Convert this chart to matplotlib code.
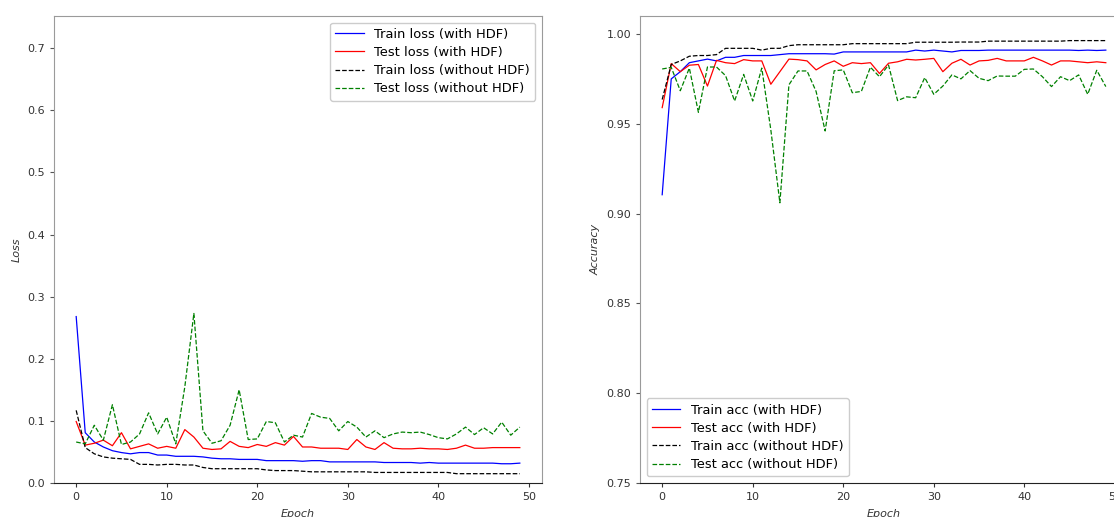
import matplotlib
matplotlib.use("Agg")
import matplotlib.pyplot as plt

epochs = list(range(50))

train_loss_hdf = [0.268, 0.081, 0.066, 0.058, 0.052, 0.049, 0.047, 0.049, 0.049, 0.045,
                  0.045, 0.043, 0.043, 0.043, 0.042, 0.040, 0.039, 0.039, 0.038, 0.038,
                  0.038, 0.036, 0.036, 0.036, 0.036, 0.035, 0.036, 0.036, 0.034, 0.034,
                  0.034, 0.034, 0.034, 0.034, 0.033, 0.033, 0.033, 0.033, 0.032, 0.033,
                  0.032, 0.032, 0.032, 0.032, 0.032, 0.032, 0.032, 0.031, 0.031, 0.032]
test_loss_hdf = [0.099, 0.061, 0.064, 0.069, 0.060, 0.081, 0.055, 0.059, 0.063, 0.056,
                 0.059, 0.056, 0.086, 0.074, 0.056, 0.054, 0.055, 0.067, 0.059, 0.057,
                 0.062, 0.059, 0.065, 0.061, 0.075, 0.058, 0.058, 0.056, 0.056, 0.056,
                 0.054, 0.070, 0.058, 0.054, 0.065, 0.056, 0.055, 0.055, 0.056, 0.055,
                 0.055, 0.054, 0.056, 0.061, 0.056, 0.056, 0.057, 0.057, 0.057, 0.057]
train_loss_nohdf = [0.117, 0.057, 0.047, 0.042, 0.040, 0.039, 0.038, 0.030, 0.030, 0.029,
                    0.030, 0.030, 0.029, 0.029, 0.025, 0.023, 0.023, 0.023, 0.023, 0.023,
                    0.023, 0.021, 0.020, 0.020, 0.020, 0.019, 0.018, 0.018, 0.018, 0.018,
                    0.018, 0.018, 0.018, 0.017, 0.017, 0.017, 0.017, 0.017, 0.017, 0.017,
                    0.017, 0.017, 0.015, 0.015, 0.015, 0.015, 0.015, 0.015, 0.015, 0.015]
test_loss_nohdf = [0.066, 0.063, 0.093, 0.069, 0.126, 0.062, 0.066, 0.079, 0.113, 0.079,
                   0.106, 0.063, 0.155, 0.273, 0.084, 0.064, 0.068, 0.093, 0.150, 0.070,
                   0.071, 0.099, 0.097, 0.066, 0.077, 0.074, 0.112, 0.106, 0.104, 0.084,
                   0.099, 0.090, 0.074, 0.084, 0.073, 0.079, 0.082, 0.081, 0.082, 0.078,
                   0.073, 0.071, 0.079, 0.090, 0.078, 0.089, 0.079, 0.098, 0.077, 0.090]

train_acc_hdf = [0.9105, 0.975, 0.979, 0.984, 0.985, 0.986, 0.985, 0.987, 0.987, 0.988,
                 0.988, 0.988, 0.988, 0.9885, 0.989, 0.989, 0.989, 0.989, 0.989, 0.9888,
                 0.990, 0.990, 0.990, 0.990, 0.990, 0.990, 0.990, 0.990, 0.991, 0.9905,
                 0.991, 0.9905, 0.990, 0.9908, 0.9908, 0.9908, 0.991, 0.991, 0.991, 0.991,
                 0.991, 0.991, 0.991, 0.991, 0.991, 0.991, 0.9908, 0.991, 0.9908, 0.991]
test_acc_hdf = [0.959, 0.9835, 0.979, 0.9826, 0.983, 0.971, 0.9853, 0.984, 0.9835, 0.9857,
                0.985, 0.985, 0.972, 0.979, 0.986, 0.9857, 0.985, 0.980, 0.983, 0.985,
                0.982, 0.984, 0.9835, 0.984, 0.978, 0.9837, 0.9845, 0.9859, 0.9855, 0.9859,
                0.9864, 0.979, 0.9837, 0.9859, 0.9827, 0.985, 0.9853, 0.9864, 0.985, 0.985,
                0.985, 0.987, 0.985, 0.9827, 0.985, 0.985, 0.9845, 0.984, 0.9845, 0.984]
train_acc_nohdf = [0.9635, 0.983, 0.985, 0.9876, 0.988, 0.988, 0.9885, 0.992, 0.992, 0.992,
                   0.992, 0.991, 0.992, 0.992, 0.9935, 0.994, 0.994, 0.994, 0.994, 0.994,
                   0.994, 0.9946, 0.9946, 0.9946, 0.9946, 0.9946, 0.9946, 0.9946, 0.9954, 0.9954,
                   0.9954, 0.9954, 0.9954, 0.9955, 0.9955, 0.9955, 0.996, 0.996, 0.996, 0.996,
                   0.996, 0.996, 0.996, 0.996, 0.996, 0.9963, 0.9963, 0.9963, 0.9963, 0.9963]
test_acc_nohdf = [0.9805, 0.9814, 0.9684, 0.981, 0.9564, 0.9816, 0.9816, 0.9768, 0.9627, 0.9775,
                  0.9627, 0.981, 0.9466, 0.906, 0.9717, 0.9794, 0.9794, 0.968, 0.946, 0.9795,
                  0.980, 0.9673, 0.968, 0.9815, 0.9762, 0.9827, 0.9629, 0.965, 0.9645, 0.9757,
                  0.9664, 0.9710, 0.9772, 0.975, 0.9796, 0.9753, 0.974, 0.9766, 0.9765, 0.9765,
                  0.9803, 0.9805, 0.9762, 0.9707, 0.9762, 0.974, 0.9772, 0.9664, 0.9798, 0.9707]

loss_labels = ["Train loss (with HDF)", "Test loss (with HDF)",
               "Train loss (without HDF)", "Test loss (without HDF)"]
acc_labels = ["Train acc (with HDF)", "Test acc (with HDF)",
              "Train acc (without HDF)", "Test acc (without HDF)"]

plt.rcParams['font.family'] = ['DejaVu Sans']
W, H = 1114, 517
fig = plt.figure(figsize=(W / 100, H / 100), dpi=100)

ax1 = fig.add_axes([54 / W, 34 / H, 488 / W, 467 / H])
ax2 = fig.add_axes([640 / W, 34 / H, 488 / W, 467 / H])

lw = 0.9
def style(ax):
    for s in ['left', 'top', 'right']:
        ax.spines[s].set_color('#9a9a9a')
    ax.spines['bottom'].set_color('#222222')
    ax.tick_params(labelsize=8, colors='#333333', length=3, width=0.8)
    ax.tick_params(axis='y', color='#555555')

ax1.plot(epochs, train_loss_hdf, color='blue', lw=lw, label=loss_labels[0])
ax1.plot(epochs, test_loss_hdf, color='red', lw=lw, label=loss_labels[1])
ax1.plot(epochs, train_loss_nohdf, color='black', lw=lw, ls='--', label=loss_labels[2])
ax1.plot(epochs, test_loss_nohdf, color='green', lw=lw, ls='--', label=loss_labels[3])
ax1.set_ylim(0, 0.752)
ax1.set_yticks([0.0, 0.1, 0.2, 0.3, 0.4, 0.5, 0.6, 0.7])
ax1.set_xticks([0, 10, 20, 30, 40, 50])
ax1.set_ylabel("Loss", fontsize=8, style='italic', color='#333333')
ax1.set_xlabel("Epoch", fontsize=8, style='italic', color='#333333', labelpad=5)
style(ax1)
ax1.legend(loc='upper right', fontsize=9.4, handlelength=2.2, labelspacing=0.4,
           framealpha=1, edgecolor='#cccccc')

ax2.plot(epochs, train_acc_hdf, color='blue', lw=lw, label=acc_labels[0])
ax2.plot(epochs, test_acc_hdf, color='red', lw=lw, label=acc_labels[1])
ax2.plot(epochs, train_acc_nohdf, color='black', lw=lw, ls='--', label=acc_labels[2])
ax2.plot(epochs, test_acc_nohdf, color='green', lw=lw, ls='--', label=acc_labels[3])
ax2.set_ylim(0.75, 1.01)
ax2.set_yticks([0.75, 0.80, 0.85, 0.90, 0.95, 1.00])
ax2.set_xticks([0, 10, 20, 30, 40, 50])
ax2.set_ylabel("Accuracy", fontsize=8, style='italic', color='#333333')
ax2.set_xlabel("Epoch", fontsize=8, style='italic', color='#333333', labelpad=5)
style(ax2)
ax2.legend(loc='lower left', fontsize=9.4, handlelength=2.2, labelspacing=0.4,
           framealpha=1, edgecolor='#cccccc')

fig.savefig("out.png", dpi=100)
